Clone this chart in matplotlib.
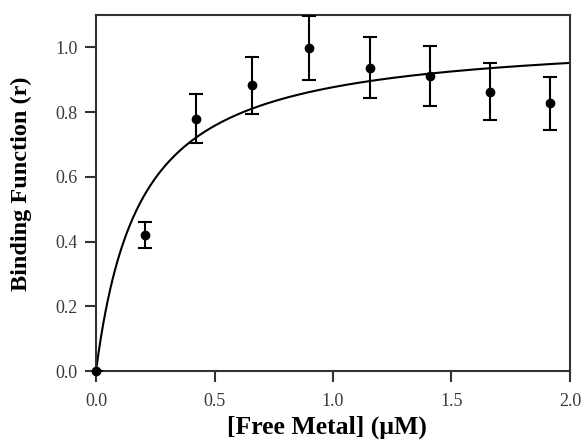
import numpy as np
import matplotlib
matplotlib.use("Agg")
import matplotlib.pyplot as plt

# Data
free_metal = [0.0, 0.207, 0.42, 0.66, 0.90, 1.156, 1.409, 1.663, 1.917]
binding_r = [0.0, 0.42, 0.78, 0.884, 0.998, 0.937, 0.913, 0.863, 0.827]
err_low = [0.0, 0.04, 0.077, 0.089, 0.10, 0.094, 0.093, 0.086, 0.081]
err_high = [0.0, 0.04, 0.075, 0.086, 0.10, 0.095, 0.091, 0.089, 0.083]

# Fitted hyperbolic binding model parameters
fit_bmax = 1.041
fit_kd = 0.187

xticks = [0.0, 0.5, 1.0, 1.5, 2.0]
yticks = [0.0, 0.2, 0.4, 0.6, 0.8, 1.0]

plt.rcParams['font.family'] = ['Liberation Serif', 'DejaVu Serif']

fig = plt.figure(figsize=(5.84, 4.47), dpi=100)
ax = fig.add_axes([0.1644, 0.170, 0.8116, 0.7964])

xf = np.linspace(0, 2.0, 400)
ax.plot(xf, fit_bmax * xf / (fit_kd + xf), color='black', lw=1.5, zorder=2)

eb = ax.errorbar(free_metal, binding_r, yerr=[err_low, err_high], fmt='o',
                 color='black', ms=6, elinewidth=1.5, capsize=5, capthick=1.5,
                 zorder=3)
eb[0].set_clip_on(False)

ax.set_xlim(0, 2.0)
ax.set_ylim(0, 1.1)
ax.set_xticks(xticks)
ax.set_yticks(yticks)
ax.set_xticklabels([f"{v:.1f}" for v in xticks])
ax.set_yticklabels([f"{v:.1f}" for v in yticks])
ax.tick_params(direction='out', length=8, width=1.5, color='#333333',
               labelsize=13, labelcolor='#3a3a3a')
ax.tick_params(axis='x', pad=8)
ax.tick_params(axis='y', pad=5)
for s in ax.spines.values():
    s.set_linewidth(1.5)
    s.set_color('#333333')

ax.set_xlabel('[Free Metal] (\u03bcM)', fontsize=18.5, fontweight='bold')
ax.set_ylabel('Binding Function (r)', fontsize=17.5, fontweight='bold')
ax.xaxis.set_label_coords(0.487, -0.126)
ax.yaxis.set_label_coords(-0.134, 0.525)

fig.savefig('out.png', dpi=100)
